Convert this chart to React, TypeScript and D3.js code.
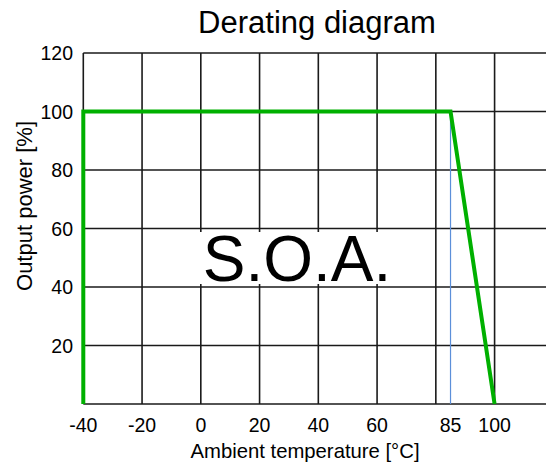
import React from "react";
import * as d3 from "d3";

const xGridValues = [-40, -20, 0, 20, 40, 60, 80, 100];
const xTickValues = [-40, -20, 0, 20, 40, 60, 85, 100];
const yTickValues = [20, 40, 60, 80, 100, 120];
const yGridValues = [0, 20, 40, 60, 80, 100, 120];
const deratingTemp = [-40, -40, 85, 100];
const deratingPower = [0, 100, 100, 0];
const markerTemp = 85;
const markerPower = 100;

const W = 546;
const H = 467;
const FONT = "Arial, 'Liberation Sans', Helvetica, sans-serif";

export default function App() {
  const x = d3.scaleLinear().domain([-40, 117.5]).range([83.3, 546]);
  const y = d3.scaleLinear().domain([0, 120]).range([404, 53]);
  const pts = deratingTemp.map((t, i) => [t, deratingPower[i]] as [number, number]);
  const line = d3
    .line<[number, number]>()
    .x((d) => x(d[0]))
    .y((d) => y(d[1]));

  return (
    <svg
      width={W}
      height={H}
      style={{ position: "absolute", left: 0, top: 0, background: "#fff" }}
      fontFamily={FONT}
    >
      <rect x={0} y={0} width={W} height={H} fill="#fff" />
      {xGridValues.map((v) => (
        <line key={"xg" + v} x1={x(v)} x2={x(v)} y1={y(0)} y2={y(120)} stroke="#1a1a1a" strokeWidth={1.6} />
      ))}
      {yGridValues.map((v) => (
        <line key={"yg" + v} x1={x(-40)} x2={W} y1={y(v)} y2={y(v)} stroke="#1a1a1a" strokeWidth={1.6} />
      ))}
      <rect x={199} y={232} width={193} height={52} fill="#fff" />
      <text x={297} y={281} fontSize={64} textAnchor="middle" fill="#000">
        S.O.A.
      </text>
      <line
        x1={x(markerTemp)}
        x2={x(markerTemp)}
        y1={y(markerPower)}
        y2={y(0)}
        stroke="#5b8fd9"
        strokeWidth={1.2}
      />
      <path d={line(pts) || ""} fill="none" stroke="#00b000" strokeWidth={4} strokeLinejoin="miter" />
      {xTickValues.map((v) => (
        <text key={"xt" + v} x={x(v)} y={432} fontSize={19.5} textAnchor="middle" fill="#000">
          {v}
        </text>
      ))}
      {yTickValues.map((v) => (
        <text key={"yt" + v} x={73} y={y(v) + 7} fontSize={19.5} textAnchor="end" fill="#000">
          {v}
        </text>
      ))}
      <text x={305} y={458} fontSize={20.3} textAnchor="middle" fill="#000">
        Ambient temperature [°C]
      </text>
      <text
        transform={`translate(32, 206) rotate(-90)`}
        fontSize={22}
        textAnchor="middle"
        fill="#000"
      >
        Output power [%]
      </text>
      <text x={317} y={33} fontSize={31} textAnchor="middle" fill="#000">
        Derating diagram
      </text>
    </svg>
  );
}
